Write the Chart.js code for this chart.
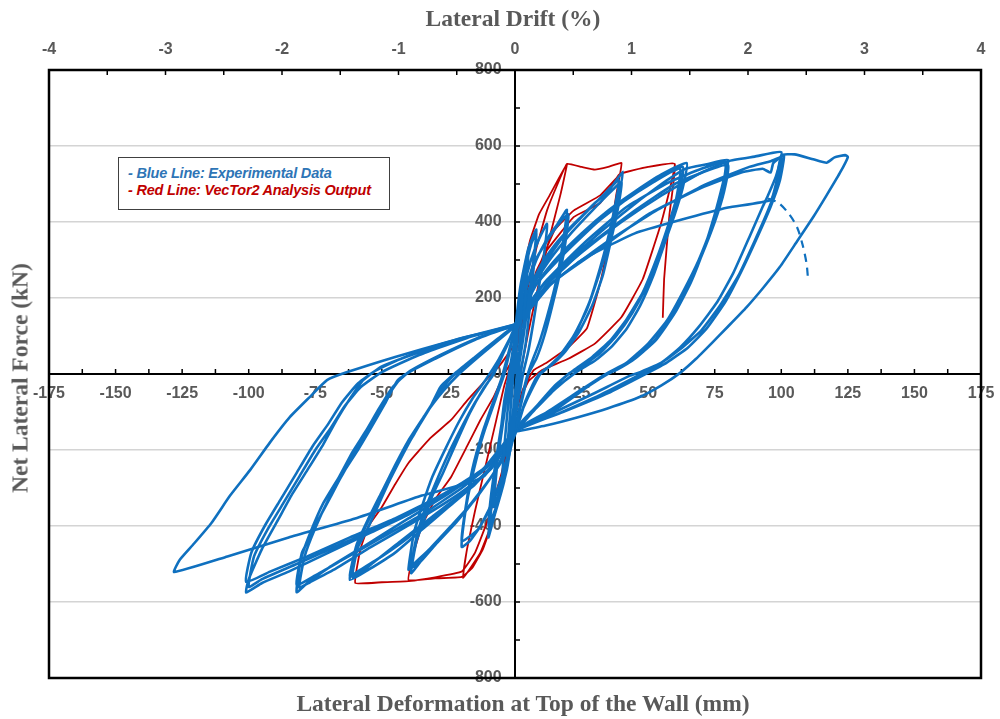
<!DOCTYPE html>
<html>
<head>
<meta charset="utf-8">
<script src="https://cdn.jsdelivr.net/npm/chart.js@4.4.1/dist/chart.umd.min.js"></script>
<style>
  body { margin: 0; background: #fff; }
  #wrap { position: relative; width: 1000px; height: 719px; }
  #chart { position: absolute; left: 0; top: 0; }
  .ttl { position: absolute; font-family: "Liberation Serif", "Times New Roman", serif; font-weight: bold;
         color: #595959; font-size: 23.5px; white-space: nowrap; }
  #legend { position: absolute; left: 118px; top: 157px; width: 272px; height: 53px; background: #fff;
            border: 1.5px solid #404040; font-family: "Liberation Sans", Arial, sans-serif; font-style: italic;
            font-weight: bold; font-size: 14.5px; line-height: 17px; box-sizing: border-box; padding: 7px 0 0 9px;
            letter-spacing: -0.2px; }
</style>
</head>
<body>
<div id="wrap">
  <canvas id="chart" width="1000" height="719"></canvas>
  <div class="ttl" style="left:513px; top:18px; transform:translate(-50%,-50%);">Lateral Drift (%)</div>
  <div class="ttl" style="left:20px; top:378px; transform:translate(-50%,-50%) rotate(-90deg);">Net Lateral Force (kN)</div>
  <div class="ttl" style="left:523px; top:703px; transform:translate(-50%,-50%);">Lateral Deformation at Top of the Wall (mm)</div>
  <div id="legend">
    <div style="color:#2e75b6">- Blue Line: Experimental Data</div>
    <div style="color:#c00000">- Red Line: VecTor2 Analysis Output</div>
  </div>
</div>
<script>
// axis ranges
const deformRange = [-175, 175];   // mm, bottom axis
const driftRange = [-4, 4];        // %, top axis
const forceRange = [-800, 800];    // kN

// experimental hysteresis, one array per drift level [mm, kN]
const expSmall = [[0,0],[1,120],[2,200],[3,250],[2.5,180],[1.5,60],[0,-50],[-1.5,-150],[-3,-230],[-2.5,-160],[-1,-40],[0,60],
  [1.5,170],[3,250],[4,300],[5,320],[4.2,230],[3,120],[1.5,20],[0,-80],[-2,-190],[-4,-270],[-5,-300],[-4.2,-210],[-3,-110],[-1.5,-20],[0,90],
  [2,200],[4,280],[6,340],[8,370],[7,280],[5.5,170],[4,80],[2,0],[0,-100],[-3,-220],[-5.5,-300],[-8,-350],[-7,-260],[-5.5,-160],[-4,-70],[-2,10],[0,100],
  [3,220],[6,300],[9,355],[12,395],[11,320],[9,230],[7,140],[5,60],[3,0],[0,-120],[-3,-250],[-6,-330],[-10,-400],[-9,-320],[-7,-220],[-5,-130],[-3,-50],[-1,30],[0,110],
  [2,230],[5,330],[8,380],[7,300],[5,190],[3,90],[1,0],[-1,-120],[-4,-280],[-8,-380],[-10,-430],[-8.5,-330],[-6,-200],[-3.5,-80],[-1,40],[0,130]];
const exp20 = [[0,110],[4,220],[8,300],[12,355],[16,395],[19.5,432],[18.5,370],[17,300],[15,230],[12,150],[9,80],[6,25],[4,-20],[0,-140],[-4,-250],[-8,-330],[-13,-400],[-17,-440],[-20,-455],[-19,-380],[-17,-300],[-14,-210],[-11,-140],[-7,-60],[-4,0],[0,120],
  [3,200],[7,290],[12,350],[17,400],[20,420],[19,350],[17,270],[14,180],[11,100],[8,40],[5,0],[0,-150],[-4,-260],[-9,-350],[-14,-410],[-20,-440],[-18.5,-350],[-16,-250],[-12,-150],[-8,-70],[-5,-10],[0,120]];
const exp40 = [[0,120],[5,220],[10,290],[15,340],[20,380],[25,415],[30,450],[35,480],[40.5,532],[39,470],[37,410],[35,340],[31,250],[27,170],[22,100],[17,50],[12,15],[8,-10],[4,-70],[0,-160],[-5,-230],[-12,-300],[-20,-370],[-28,-430],[-34,-480],[-39,-524],[-37,-440],[-34.5,-392],[-31,-320],[-27,-260],[-22,-180],[-17,-103],[-12,-40],[-8,0],[-4,60],[0,120],
  [5,210],[11,290],[18,360],[26,420],[33,470],[39,510],[37.5,440],[35,360],[32,280],[28,190],[23,110],[18,55],[13,20],[9,0],[4,-70],[0,-150],[-6,-240],[-14,-320],[-22,-390],[-30,-450],[-35,-490],[-39,-510],[-37,-430],[-34,-360],[-30,-290],[-25,-210],[-20,-140],[-15,-75],[-10,-20],[-6,30],[0,125],
  [6,225],[13,300],[21,370],[29,430],[36,480],[40,505],[38.5,430],[36,350],[33,260],[29,180],[24,110],[19,60],[14,25],[10,5],[5,-60],[0,-140],[-7,-250],[-15,-330],[-24,-400],[-32,-460],[-38,-500],[-40,-515],[-38,-420],[-35,-350],[-31,-270],[-26,-195],[-21,-125],[-16,-65],[-11,-15],[-6,40],[0,120]];
const exp60 = [[0,130],[6,220],[15,300],[25,370],[35,430],[45,480],[55,525],[64.5,555],[63,490],[60,420],[56,340],[52,260],[47,180],[42,120],[36,70],[30,35],[23,5],[15,-40],[8,-90],[0,-150],[-6,-220],[-15,-290],[-25,-350],[-35,-410],[-45,-470],[-55,-515],[-62,-542],[-60,-470],[-55.5,-410],[-51,-340],[-47,-279],[-42,-210],[-37,-147],[-32,-90],[-28,-34],[-22,5],[-15,45],[-7,90],[0,130],
  [7,230],[17,310],[28,385],[40,450],[52,505],[63,545],[61.5,470],[58,390],[54,310],[49,225],[44,160],[38,100],[32,55],[25,20],[20,0],[12,-55],[6,-105],[0,-155],[-7,-230],[-17,-300],[-28,-360],[-40,-430],[-50,-480],[-58,-515],[-62,-532],[-59.5,-450],[-55,-380],[-50,-310],[-45,-240],[-40,-175],[-34,-110],[-29,-55],[-24,-10],[-18,25],[-10,70],[0,128],
  [8,235],[19,320],[31,400],[43,465],[54,515],[62,540],[60.5,460],[57,380],[53,300],[48,215],[42,145],[36,90],[29,45],[22,10],[15,-30],[8,-85],[0,-145],[-8,-240],[-19,-310],[-31,-375],[-43,-440],[-53,-495],[-61,-535],[-58.5,-440],[-54,-370],[-49,-300],[-44,-230],[-38,-160],[-33,-100],[-27,-45],[-21,0],[-12,55],[0,125]];
const exp80 = [[0,130],[10,230],[25,330],[40,420],[55,500],[64,540],[72,552],[80,563],[78,500],[75,420],[71,330],[66,240],[60,160],[53,90],[45,40],[38,10],[33,-5],[25,-45],[15,-95],[0,-150],[-8,-230],[-20,-300],[-35,-370],[-50,-430],[-65,-490],[-75,-530],[-82,-555],[-80,-470],[-77,-430],[-74.5,-392],[-69,-320],[-64.5,-260],[-59,-200],[-54.5,-147],[-49,-80],[-44,-16],[-36,20],[-25,60],[-12,100],[0,130],
  [12,235],[28,340],[45,430],[60,500],[72,535],[80,550],[78.5,480],[75,400],[70,310],[65,230],[59,150],[52,85],[44,35],[36,5],[28,-30],[18,-80],[8,-120],[0,-150],[-10,-240],[-24,-310],[-40,-380],[-56,-450],[-70,-510],[-78,-550],[-82,-574],[-80.5,-490],[-77,-420],[-72,-340],[-66,-270],[-61,-205],[-56,-150],[-51,-90],[-46,-35],[-40,5],[-28,50],[-14,95],[0,130],
  [11,240],[26,345],[42,440],[58,505],[70,540],[79,556],[77.5,470],[74,390],[69,300],[63,215],[57,140],[50,80],[42,30],[34,0],[24,-45],[12,-100],[0,-148],[-9,-250],[-22,-320],[-38,-390],[-54,-455],[-68,-515],[-77,-548],[-81,-562],[-79,-480],[-75,-405],[-70,-330],[-64,-255],[-58,-180],[-52,-110],[-47,-50],[-42,-5],[-30,40],[-15,90],[0,130]];
const exp100 = [[0,130],[10,230],[25,320],[40,400],[55,470],[70,530],[80,560],[90,572],[100,584],[98,520],[95,470],[93,440],[88,360],[82,266],[76,190],[69,124],[62,70],[55,30],[47,5],[43,-5],[30,-50],[15,-100],[0,-150],[-10,-240],[-25,-310],[-40,-370],[-55,-420],[-70,-470],[-85,-520],[-95,-550],[-101,-575],[-100,-540],[-95,-460],[-89,-384],[-84,-320],[-78,-253],[-72,-185],[-67,-121],[-62,-65],[-57,-16],[-50,20],[-35,60],[-20,95],[0,130],
  [12,230],[30,320],[50,420],[70,490],[85,530],[93,540],[96,530],[97,555],[101,575],[99.5,510],[96,440],[91,360],[85,270],[79,190],[72,120],[65,70],[57,30],[49,0],[35,-50],[18,-100],[0,-150],[-12,-250],[-28,-320],[-45,-380],[-62,-430],[-78,-480],[-92,-520],[-101,-547],[-99,-470],[-94,-400],[-88,-330],[-82,-260],[-76,-190],[-70,-130],[-65,-75],[-59,-25],[-52,10],[-38,55],[-20,95],[0,128],
  [14,240],[33,340],[53,430],[72,500],[88,545],[96,560],[100,570],[98.5,500],[95,430],[90,350],[84,260],[77,180],[70,115],[62,65],[54,25],[46,-5],[32,-55],[16,-105],[0,-152],[-13,-260],[-30,-330],[-48,-395],[-66,-450],[-82,-500],[-95,-540],[-100,-560],[-98,-480],[-93,-410],[-87,-340],[-81,-270],[-75,-200],[-69,-140],[-64,-85],[-58,-35],[-50,5],[-36,50],[-18,95],[0,130]];
const exp125Neg = [[0,-150],[-12,-271],[-35,-320],[-60,-380],[-85,-430],[-108,-480],[-128,-521],[-126,-490],[-121,-450],[-114,-392],[-107,-320],[-99.5,-253],[-92,-180],[-84.5,-113],[-77,-60],[-70.6,-16],[-63,5],[-45,45],[-25,85],[0,130]];
const exp125Pos = [[0,128],[10,215],[25,300],[45,370],[62,405],[80,438],[96,458],[98,500],[100,575],[105,578],[112,565],[117,556],[120,570],[124,576],[125,571],[122,529],[117,470],[112,413],[106,350],[99.5,282],[93,225],[87,176],[80,125],[74,82],[68,40],[62,3],[55,-30],[47,-60],[35,-90],[24,-113],[12,-135],[0,-152]];
const expDashed = [[95,462],[99,450],[103,420],[106,385],[108,340],[109.5,290],[110,253]];

// VecTor2 analysis output [mm, kN]
const vecTor2 = [[0,0],[1.5,150],[3,260],[5.6,350],[9,420],[13,470],[19.5,553],
  [17,470],[13,360],[9,240],[5,110],[2,0],[-1,-120],[-4,-260],[-8,-380],[-13,-470],[-19.5,-537],
  [-18,-460],[-15,-360],[-11,-240],[-7,-120],[-4,-30],[0,60],[4,200],[8,330],[12,430],[16,500],[19.5,553],
  [25,545],[30,538],[35,545],[40,555],
  [38,470],[36,380],[32,240],[27,120],[20,70],[12,30],[7,10],[3,-40],[0,-110],[-4,-260],[-8,-380],[-12,-460],[-16,-510],[-20,-534],[-30,-538],[-40,-542],
  [-38,-470],[-35,-400],[-30,-330],[-24,-271],[-18,-190],[-13,-121],[-8,-60],[-4,0],[0,50],[4,170],[8,270],[12,326],[22,413],[32,450],[39,524],[40,528],[50,545],[60,553],
  [55,400],[48,250],[40,150],[30,80],[20,40],[10,10],[5,-20],[0,-100],[-5,-260],[-10,-380],[-15,-470],[-20,-520],[-30,-535],[-40,-545],[-50,-548],[-60,-550],
  [-58,-460],[-55,-400],[-50,-350],[-45,-290],[-40,-234],[-32,-170],[-24,-121],[-18,-70],[-12,-24],[-5.6,24],[0,80],[5,200],[10,300],[15,380],[22,430],[32,470],[40,528],[50,545],[60,553],
  [58,420],[56,250],[55.5,148]];

const BLUE = '#0f70bf';
const RED = '#c00000';
const GREY = '#595959';
const tickFont = { family: 'Liberation Sans, Arial, sans-serif', size: 16, weight: 'bold' };

const toPts = arr => arr.map(p => ({ x: p[0], y: p[1] }));
const expSets = [expSmall, exp20, exp40, exp60, exp80, exp100, exp125Neg, exp125Pos];

const datasets = expSets.map(a => ({
  data: toPts(a), borderColor: BLUE, borderWidth: 2.6, showLine: true, pointRadius: 0, tension: 0.15
}));
datasets.push({ data: toPts(expDashed), borderColor: BLUE, borderWidth: 2.2, borderDash: [8, 6], showLine: true, pointRadius: 0, tension: 0.3 });
datasets.push({ data: toPts(vecTor2), borderColor: RED, borderWidth: 1.8, showLine: true, pointRadius: 0, tension: 0.1 });

// frame and small tick marks, drawn under the data
const framePlugin = {
  id: 'frame',
  beforeDatasetsDraw(chart) {
    const { ctx, chartArea: a, scales } = chart;
    const x0 = scales.x.getPixelForValue(0), y0 = scales.y.getPixelForValue(0);
    ctx.save();
    ctx.strokeStyle = '#000';
    ctx.lineWidth = 1.5;
    ctx.beginPath();
    for (let v = deformRange[0] + 12.5; v < deformRange[1]; v += 12.5) {
      const px = scales.x.getPixelForValue(v);
      ctx.moveTo(px, y0); ctx.lineTo(px, y0 - 5);
    }
    for (let v = forceRange[0] + 100; v < forceRange[1]; v += 100) {
      const py = scales.y.getPixelForValue(v);
      ctx.moveTo(x0, py); ctx.lineTo(x0 + 5, py);
    }
    for (let v = driftRange[0] + 0.5; v < driftRange[1]; v += 0.5) {
      const px = scales.x2.getPixelForValue(v);
      ctx.moveTo(px, a.top); ctx.lineTo(px, a.top + 5);
    }
    ctx.stroke();
    ctx.lineWidth = 2.5;
    ctx.strokeRect(a.left, a.top, a.right - a.left, a.bottom - a.top);
    ctx.restore();
  }
};

// end labels may sit on the frame, so no extra side padding
const noSidePad = s => { s.paddingLeft = 0; s.paddingRight = 0; };

new Chart(document.getElementById('chart'), {
  type: 'scatter',
  data: { datasets },
  options: {
    responsive: false,
    animation: false,
    layout: { padding: { left: 49, right: 19, top: 30, bottom: 41 } },
    plugins: { legend: { display: false }, tooltip: { enabled: false } },
    scales: {
      x: {
        type: 'linear', position: { y: 0 }, min: deformRange[0], max: deformRange[1],
        ticks: { stepSize: 25, padding: 10, font: tickFont, color: GREY, autoSkip: false, maxRotation: 0 },
        grid: { display: false, drawTicks: false },
        border: { color: '#000', width: 2 },
        afterFit: noSidePad
      },
      x2: {
        type: 'linear', position: 'top', min: driftRange[0], max: driftRange[1],
        ticks: { stepSize: 1, padding: 11, font: tickFont, color: GREY, autoSkip: false, maxRotation: 0 },
        grid: { display: false, drawTicks: false },
        border: { display: false },
        afterFit: s => { s.height = 40; noSidePad(s); }
      },
      y: {
        type: 'linear', position: { x: 0 }, min: forceRange[0], max: forceRange[1],
        // trailing spaces keep the labels clear of the centre axis line
        ticks: { stepSize: 200, font: tickFont, color: GREY, callback: v => v + '   ' },
        grid: { color: '#d4d4d4', lineWidth: 1.5, drawTicks: false },
        border: { color: '#000', width: 2 }
      }
    }
  },
  plugins: [framePlugin]
});
</script>
</body>
</html>
